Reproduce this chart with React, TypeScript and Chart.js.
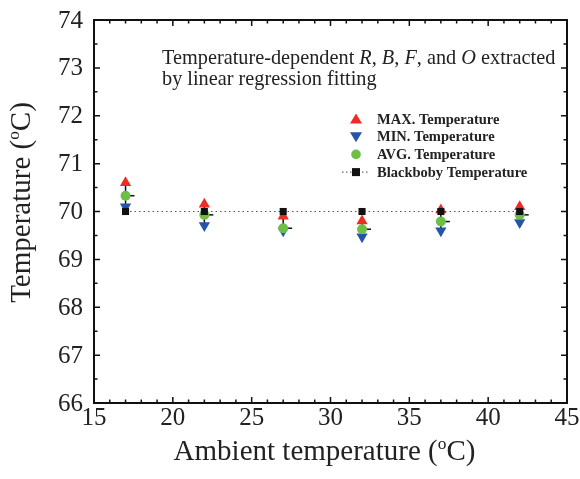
import React, { useEffect, useRef } from "react";
import { Chart, registerables } from "chart.js";

Chart.register(...registerables);

const ambient = [17, 22, 27, 32, 37, 42];
const maxTemp = [70.6, 70.15, 69.9, 69.8, 70.03, 70.1];
const minTemp = [70.1, 69.71, 69.6, 69.47, 69.6, 69.77];
const avgTemp = [70.33, 69.93, 69.65, 69.63, 69.79, 69.93];
const blackbody = [70.0, 70.0, 70.0, 70.0, 70.0, 70.0];

const xTicks = [15, 20, 25, 30, 35, 40, 45];
const yTicks = [66, 67, 68, 69, 70, 71, 72, 73, 74];

const legendLabels = ["MAX. Temperature", "MIN. Temperature", "AVG. Temperature", "Blackboby Temperature"];
const noteLines = ["Temperature-dependent R, B, F, and O extracted", "by linear regression fitting"];

const RED = "#ee2b24";
const BLUE = "#2456a8";
const GREEN = "#6dbf46";
const SERIF = "'Liberation Serif', 'Times New Roman', serif";

const pts = (ys: number[]) => ambient.map((x, i) => ({ x, y: ys[i] }));

const errPlugin = {
  id: "errbars",
  beforeDatasetsDraw(chart: any) {
    const { ctx, scales } = chart;
    const xs = scales.x, ys = scales.y;
    ctx.save();
    ctx.strokeStyle = "#111";
    ctx.lineWidth = 1.5;
    ambient.forEach((x, i) => {
      const px = xs.getPixelForValue(x);
      ctx.beginPath();
      ctx.moveTo(px, ys.getPixelForValue(maxTemp[i]));
      ctx.lineTo(px, ys.getPixelForValue(minTemp[i]));
      ctx.stroke();
      const py = ys.getPixelForValue(avgTemp[i]);
      ctx.beginPath();
      ctx.moveTo(px, py);
      ctx.lineTo(px + 9, py);
      ctx.stroke();
    });
    ctx.restore();
  },
};

function superWidth(ctx: CanvasRenderingContext2D, parts: [string, boolean][], size: number) {
  let w = 0;
  parts.forEach(([t, sup]) => {
    ctx.font = `${sup ? size * 0.6 : size}px ${SERIF}`;
    w += ctx.measureText(t).width;
  });
  return w;
}

function drawSuper(ctx: CanvasRenderingContext2D, parts: [string, boolean][], size: number, x: number, y: number) {
  let cx = x;
  parts.forEach(([t, sup]) => {
    ctx.font = `${sup ? size * 0.6 : size}px ${SERIF}`;
    ctx.fillText(t, cx, sup ? y - size * 0.38 : y);
    cx += ctx.measureText(t).width;
  });
}

const framePlugin = {
  id: "frame",
  afterDraw(chart: any) {
    const { ctx, chartArea: a, scales } = chart;
    const xs = scales.x, ys = scales.y;
    ctx.save();
    ctx.strokeStyle = "#111";
    ctx.lineWidth = 2;
    ctx.strokeRect(a.left, a.top, a.right - a.left, a.bottom - a.top);
    ctx.lineWidth = 1.5;
    for (let v = 15; v <= 45; v += 1) {
      const px = xs.getPixelForValue(v);
      const len = v % 5 === 0 ? 6 : 3.5;
      ctx.beginPath();
      ctx.moveTo(px, a.bottom); ctx.lineTo(px, a.bottom - len);
      ctx.moveTo(px, a.top); ctx.lineTo(px, a.top + len);
      ctx.stroke();
    }
    for (let v = 66; v <= 74; v += 0.5) {
      const py = ys.getPixelForValue(v);
      const len = Number.isInteger(v) ? 6 : 3.5;
      ctx.beginPath();
      ctx.moveTo(a.left, py); ctx.lineTo(a.left + len, py);
      ctx.moveTo(a.right, py); ctx.lineTo(a.right - len, py);
      ctx.stroke();
    }

    // tick labels
    ctx.fillStyle = "#222";
    ctx.font = `25px ${SERIF}`;
    ctx.textAlign = "center";
    ctx.textBaseline = "alphabetic";
    xTicks.forEach((v) => {
      ctx.fillText(String(v), xs.getPixelForValue(v), a.bottom + 22);
    });
    ctx.textAlign = "right";
    ctx.textBaseline = "middle";
    yTicks.forEach((v) => {
      ctx.fillText(String(v), a.left - 11, ys.getPixelForValue(v) + 1);
    });

    // axis titles
    ctx.textBaseline = "alphabetic";
    ctx.textAlign = "left";
    const tsz = 29;
    const xParts: [string, boolean][] = [["Ambient temperature (", false], ["o", true], ["C)", false]];
    const xw = superWidth(ctx, xParts, tsz);
    drawSuper(ctx, xParts, tsz, (a.left + a.right) / 2 - xw / 2 - 6, 460);
    const yParts: [string, boolean][] = [["Temperature (", false], ["o", true], ["C)", false]];
    const yw = superWidth(ctx, yParts, tsz);
    ctx.save();
    ctx.translate(30, (a.top + a.bottom) / 2 - 9);
    ctx.rotate(-Math.PI / 2);
    drawSuper(ctx, yParts, tsz, -yw / 2, 0);
    ctx.restore();

    // note text with italic letters
    const nsz = 20.3;
    const drawMixed = (line: string, x: number, y: number) => {
      let cx = x;
      const tokens = line.split(/(\b[RBFO]\b)/);
      tokens.forEach((t) => {
        if (!t) return;
        const it = /^[RBFO]$/.test(t);
        ctx.font = `${it ? "italic " : ""}${nsz}px ${SERIF}`;
        ctx.fillText(t, cx, y);
        cx += ctx.measureText(t).width;
      });
    };
    ctx.fillStyle = "#222";
    drawMixed(noteLines[0], 162, 64);
    drawMixed(noteLines[1], 162, 85);

    // legend
    const lx = 356, ly0 = 119, dy = 17.7;
    ctx.font = `bold 14.5px ${SERIF}`;
    ctx.textBaseline = "middle";
    legendLabels.forEach((lab, i) => {
      const y = ly0 + i * dy;
      const mx = lx;
      if (i === 0) {
        ctx.fillStyle = RED;
        ctx.beginPath();
        ctx.moveTo(mx, y - 5.5); ctx.lineTo(mx + 6, y + 4.5); ctx.lineTo(mx - 6, y + 4.5); ctx.closePath(); ctx.fill();
      } else if (i === 1) {
        ctx.fillStyle = BLUE;
        ctx.beginPath();
        ctx.moveTo(mx, y + 5.5); ctx.lineTo(mx + 6, y - 4.5); ctx.lineTo(mx - 6, y - 4.5); ctx.closePath(); ctx.fill();
      } else if (i === 2) {
        ctx.fillStyle = GREEN;
        ctx.beginPath(); ctx.arc(mx, y, 4.8, 0, Math.PI * 2); ctx.fill();
      } else {
        ctx.strokeStyle = "#444";
        ctx.lineWidth = 1;
        ctx.setLineDash([1.5, 2.5]);
        ctx.beginPath(); ctx.moveTo(mx - 14, y); ctx.lineTo(mx + 14, y); ctx.stroke();
        ctx.setLineDash([]);
        ctx.fillStyle = "#111";
        ctx.fillRect(mx - 4, y - 4, 8, 8);
      }
      ctx.fillStyle = "#222";
      ctx.fillText(lab, lx + 21, y + 1);
    });
    ctx.restore();
  },
};

export default function App() {
  const ref = useRef<HTMLCanvasElement | null>(null);
  useEffect(() => {
    if (!ref.current) return;
    const chart = new Chart(ref.current, {
      type: "scatter",
      data: {
        datasets: [
          {
            label: legendLabels[3],
            data: pts(blackbody),
            showLine: true,
            borderColor: "#555",
            borderWidth: 1.2,
            borderDash: [1.5, 3],
            pointStyle: "rect",
            pointRadius: 5,
            pointBackgroundColor: "#111",
            pointBorderColor: "#111",
            pointBorderWidth: 0,
            order: 0,
          },
          {
            label: legendLabels[2],
            data: pts(avgTemp),
            pointStyle: "circle",
            pointRadius: 5,
            pointBackgroundColor: GREEN,
            pointBorderColor: GREEN,
            pointBorderWidth: 0,
            order: 1,
          },
          {
            label: legendLabels[1],
            data: pts(minTemp),
            pointStyle: "triangle",
            rotation: 180,
            pointRadius: 6.5,
            pointBackgroundColor: BLUE,
            pointBorderColor: BLUE,
            pointBorderWidth: 0,
            order: 2,
          },
          {
            label: legendLabels[0],
            data: pts(maxTemp),
            pointStyle: "triangle",
            pointRadius: 6.5,
            pointBackgroundColor: RED,
            pointBorderColor: RED,
            pointBorderWidth: 0,
            order: 3,
          },
        ],
      },
      options: {
        animation: false,
        responsive: false,
        maintainAspectRatio: false,
        layout: { padding: { top: 20, right: 13, left: 0, bottom: 0 } },
        plugins: { legend: { display: false }, tooltip: { enabled: false } },
        scales: {
          x: {
            type: "linear",
            min: 15,
            max: 45,
            afterBuildTicks: (s: any) => { s.ticks = xTicks.map((v) => ({ value: v })); },
            afterFit: (s: any) => { s.height = 76; },
            grid: { display: false, drawTicks: false },
            border: { display: false },
            ticks: { display: false },
          },
          y: {
            type: "linear",
            min: 66,
            max: 74,
            afterBuildTicks: (s: any) => { s.ticks = yTicks.map((v) => ({ value: v })); },
            afterFit: (s: any) => { s.width = 94; },
            grid: { display: false, drawTicks: false },
            border: { display: false },
            ticks: { display: false },
          },
        },
      },
      plugins: [errPlugin, framePlugin],
    });
    return () => chart.destroy();
  }, []);
  return (
    <div style={{ position: "absolute", left: 0, top: 0, width: 580, height: 479, overflow: "hidden" }}>
      <canvas ref={ref} width={580} height={479} style={{ display: "block" }} />
    </div>
  );
}
